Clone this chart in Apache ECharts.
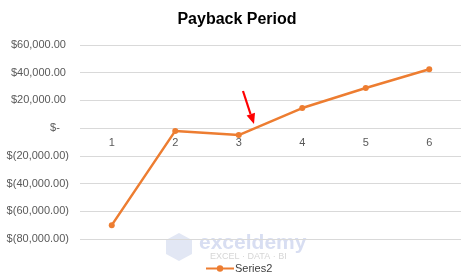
<!DOCTYPE html>
<html>
<head>
<meta charset="utf-8">
<script src="https://cdn.jsdelivr.net/npm/echarts@6/dist/echarts.min.js"></script>
<style>
html,body{margin:0;padding:0;background:#fff;}
#c{width:474px;height:279px;}
</style>
</head>
<body>
<div id="c"></div>
<script>
const categories = ['1', '2', '3', '4', '5', '6'];
const series2 = [-70000, -2000, -5000, 14500, 29000, 42500];
const yTicks = [-80000, -60000, -40000, -20000, 0, 20000, 40000, 60000];

function fmt(v) {
  if (v === 0) return '$-   ';
  const s = Math.abs(v).toLocaleString('en-US', {minimumFractionDigits: 2, maximumFractionDigits: 2});
  return v < 0 ? '$(' + s + ')' : '$' + s + ' ';
}

const gridTop = 45, gridBottom = 40, H = 279;
const yMin = yTicks[0], yMax = yTicks[yTicks.length - 1];
const plotH = H - gridTop - gridBottom;
const zeroOffset = -plotH * (0 - yMin) / (yMax - yMin);

const chart = echarts.init(document.getElementById('c'), null, {renderer: 'canvas'});
chart.setOption({
  animation: false,
  backgroundColor: '#ffffff',
  title: {
    text: 'Payback Period',
    left: 'center',
    top: 7,
    textStyle: {fontFamily: 'Liberation Sans', fontWeight: 'bold', fontSize: 16, color: '#000'}
  },
  grid: {left: 80, right: 13, top: gridTop, bottom: gridBottom},
  xAxis: {
    type: 'category',
    data: categories,
    boundaryGap: true,
    offset: zeroOffset,
    axisLine: {show: false, onZero: false},
    axisTick: {show: false},
    axisLabel: {margin: 9, fontFamily: 'Liberation Sans', fontSize: 11, color: '#595959'}
  },
  yAxis: {
    type: 'value',
    min: yMin,
    max: yMax,
    interval: 20000,
    axisLine: {show: false},
    axisTick: {show: false},
    splitLine: {lineStyle: {color: '#d9d9d9', width: 1}},
    axisLabel: {margin: 11, fontFamily: 'Liberation Sans', fontSize: 11, color: '#595959', formatter: fmt}
  },
  legend: {
    data: ['Series2'],
    left: 200,
    top: 258,
    itemWidth: 28,
    itemHeight: 8,
    itemGap: 2,
    textStyle: {fontFamily: 'Liberation Sans', fontSize: 11, color: '#404040', padding: [0, 0, 0, -4]}
  },
  graphic: [
    {type: 'polygon', z: 0, shape: {points: [[179,233],[192,240],[192,254],[179,261],[166,254],[166,240]]}, style: {fill: '#e2e7f4'}},
    {type: 'text', z: 0, left: 199, top: 233, style: {text: 'exceldemy', font: 'bold 21px "Liberation Sans"', fill: '#d8def2'}},
    {type: 'text', z: 0, left: 210, top: 252, style: {text: 'EXCEL · DATA · BI', font: '9px "Liberation Sans"', fill: '#d6d6d6'}},
    {type: 'line', z: 100, shape: {x1: 243, y1: 91, x2: 250.5, y2: 114}, style: {stroke: '#ff0000', lineWidth: 2.2}},
    {type: 'polygon', z: 100, shape: {points: [[254, 124], [255, 112.8], [246.6, 115.6]]}, style: {fill: '#ff0000'}}
  ],
  series: [{
    name: 'Series2',
    type: 'line',
    data: series2,
    symbol: 'circle',
    symbolSize: 6,
    lineStyle: {color: '#ed7d31', width: 2.5},
    itemStyle: {color: '#ed7d31'}
  }]
});
</script>
</body>
</html>
